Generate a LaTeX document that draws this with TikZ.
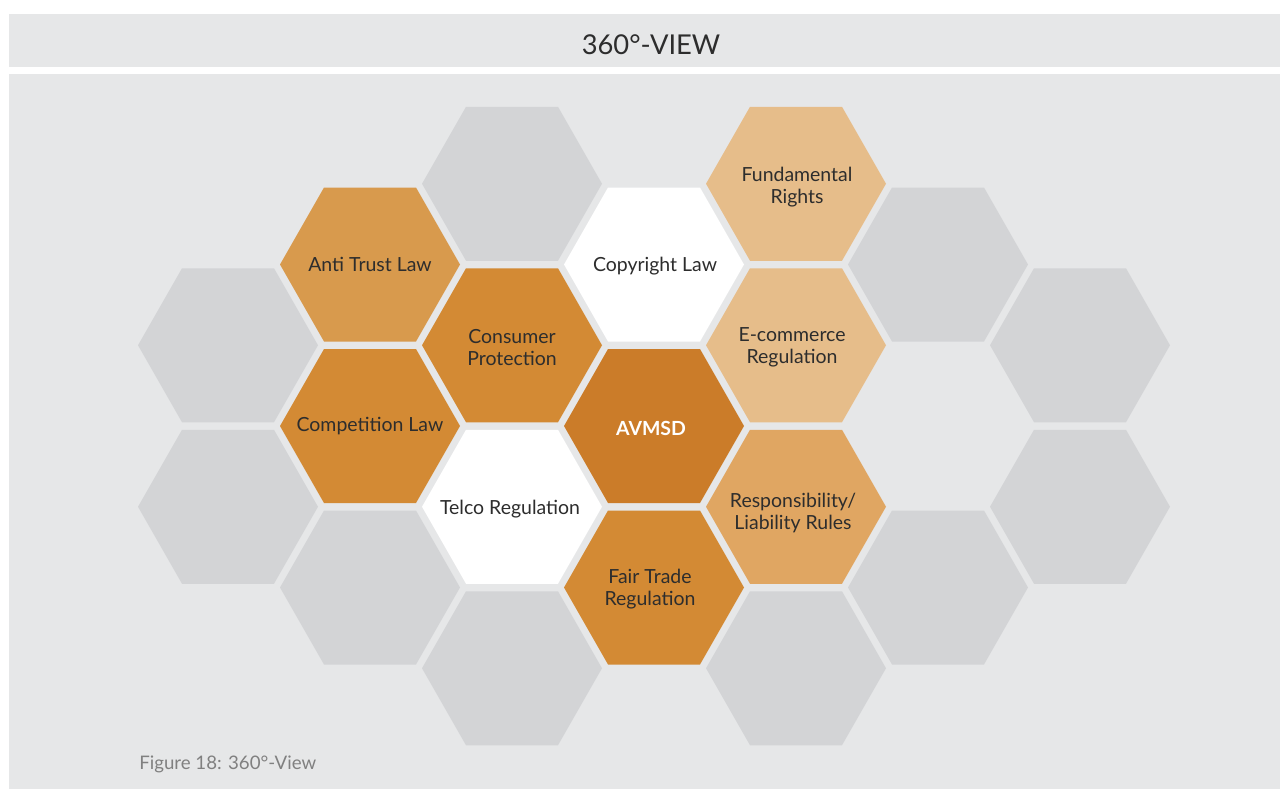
\documentclass[tikz,border=0pt]{standalone}
\usepackage{fontspec}
\setmainfont{Lato}
\definecolor{bgpanel}{HTML}{E6E7E8}
\definecolor{hexgray}{HTML}{D3D4D6}
\definecolor{orDark}{HTML}{CB7C29}
\definecolor{orMid}{HTML}{D38A34}
\definecolor{orAnti}{HTML}{D89A4D}
\definecolor{orResp}{HTML}{E0A662}
\definecolor{orLight}{HTML}{E6BD8A}
\definecolor{txtdark}{HTML}{2D2D2D}
\definecolor{captgray}{HTML}{808080}
\newcommand{\hexat}[3]{\fill[#3] (#1-90,#2) -- (#1-46,#2-77) -- (#1+46,#2-77) -- (#1+90,#2) -- (#1+46,#2+77) -- (#1-46,#2+77) -- cycle;}
\tikzset{
  hexlabel/.style={text=txtdark, align=center, font=\fontsize{14.6}{16.5}\selectfont, inner sep=0pt},
}
\begin{document}
\begin{tikzpicture}[x=0.75pt,y=-0.75pt]
\useasboundingbox (0,0) rectangle (1284,789);
\fill[white] (0,0) rectangle (1284,789);
\fill[bgpanel] (9,14) rectangle (1280,67);
\fill[bgpanel] (9,74) rectangle (1280,789);
\node[text=txtdark, font=\fontsize{20.5}{24}\selectfont, inner sep=0pt] (title) at (651,45) {360°-VIEW};
% gray hexes
\hexat{228}{345.25}{hexgray}
\hexat{228}{506.75}{hexgray}
\hexat{370}{587.5}{hexgray}
\hexat{512}{183.75}{hexgray}
\hexat{512}{668.25}{hexgray}
\hexat{796}{668.25}{hexgray}
\hexat{938}{264.5}{hexgray}
\hexat{938}{587.5}{hexgray}
\hexat{1080}{345.25}{hexgray}
\hexat{1080}{506.75}{hexgray}
% coloured hexes
\hexat{370}{264.5}{orAnti}
\hexat{370}{426}{orMid}
\hexat{512}{345.25}{orMid}
\hexat{512}{506.75}{white}
\hexat{654}{264.5}{white}
\hexat{654}{426}{orDark}
\hexat{654}{587.5}{orMid}
\hexat{796}{183.75}{orLight}
\hexat{796}{345.25}{orLight}
\hexat{796}{506.75}{orResp}
% labels
\node[hexlabel] (antitrust) at (370,264.5) {Anti Trust Law};
\node[hexlabel] (competition) at (370,426.5) {Competition Law};
\node[hexlabel] (consumer) at (512,347.5) {Consumer\\Protection};
\node[hexlabel] (telco) at (510,509) {Telco Regulation};
\node[hexlabel] (copyright) at (655,266) {Copyright Law};
\node[hexlabel, text=white, font=\bfseries\fontsize{14.6}{16.5}\selectfont] (avmsd) at (651,428) {AVMSD};
\node[hexlabel] (fairtrade) at (650,589) {Fair Trade\\Regulation};
\node[hexlabel] (fundamental) at (797,187) {Fundamental\\Rights};
\node[hexlabel] (ecommerce) at (792,347.5) {E-commerce\\Regulation};
\node[hexlabel] (resp) at (793,513) {Responsibility/\\Liability Rules};
\node[text=captgray, font=\fontsize{14}{16}\selectfont, anchor=west, inner sep=0pt] (caption) at (139,764) {Figure 18: 360°-View};
\end{tikzpicture}
\end{document}
